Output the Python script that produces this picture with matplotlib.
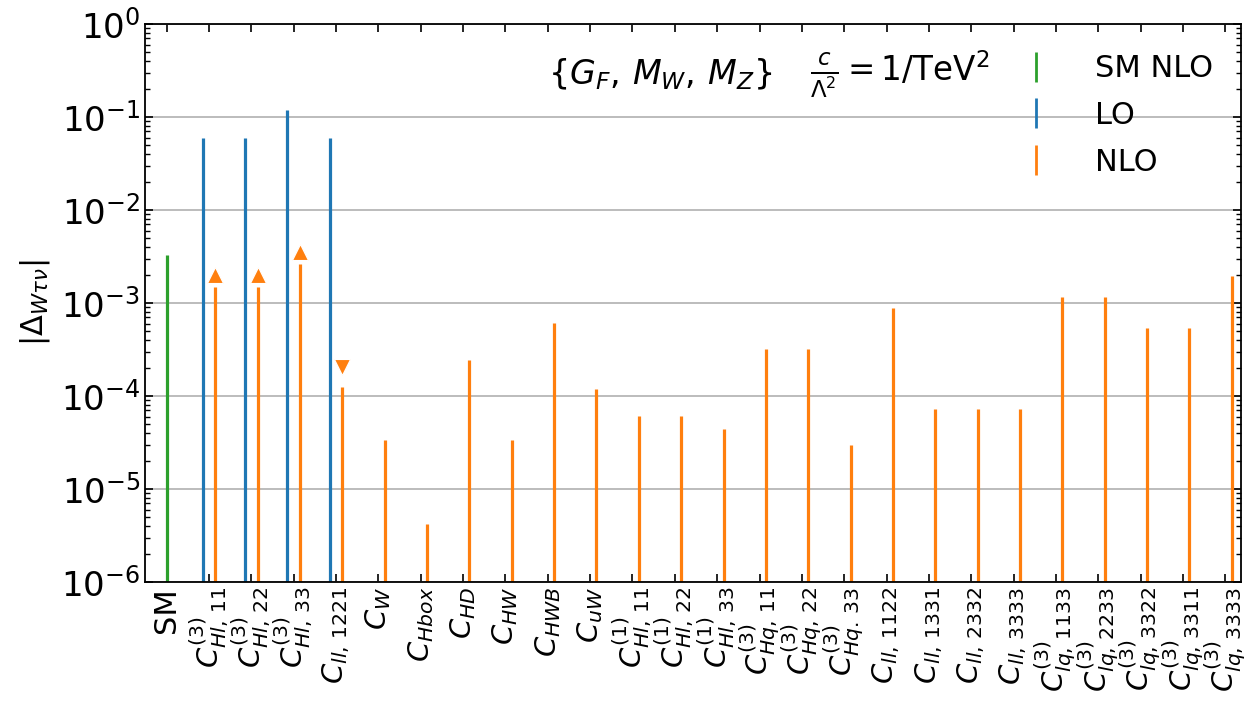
import matplotlib
matplotlib.use("Agg")
import matplotlib.pyplot as plt
from matplotlib.lines import Line2D
import numpy as np

labels = ['SM',
          r'$C_{Hl,\,11}^{(3)}$', r'$C_{Hl,\,22}^{(3)}$', r'$C_{Hl,\,33}^{(3)}$',
          r'$C_{ll,\,1221}$', r'$C_{W}$', r'$C_{Hbox}$', r'$C_{HD}$', r'$C_{HW}$',
          r'$C_{HWB}$', r'$C_{uW}$',
          r'$C_{Hl,\,11}^{(1)}$', r'$C_{Hl,\,22}^{(1)}$', r'$C_{Hl,\,33}^{(1)}$',
          r'$C_{Hq,\,11}^{(3)}$', r'$C_{Hq,\,22}^{(3)}$', r'$C_{Hq.\,33}^{(3)}$',
          r'$C_{ll,\,1122}$', r'$C_{ll,\,1331}$', r'$C_{ll,\,2332}$', r'$C_{ll,\,3333}$',
          r'$C_{lq,\,1133}^{(3)}$', r'$C_{lq,\,2233}^{(3)}$', r'$C_{lq,\,3322}^{(3)}$',
          r'$C_{lq,\,3311}^{(3)}$', r'$C_{lq,\,3333}^{(3)}$']

sm_nlo = [3.28e-3]
lo_idx = [1, 2, 3, 4]
lo_vals = [0.059, 0.059, 0.119, 0.059]
nlo_idx = list(range(1, 26))
nlo_vals = [1.48e-3, 1.48e-3, 2.6e-3, 1.25e-4, 3.37e-5, 4.2e-6, 2.44e-4, 3.37e-5,
            6.1e-4, 1.19e-4, 6.1e-5, 6.1e-5, 4.4e-5, 3.2e-4, 3.2e-4, 2.97e-5,
            8.8e-4, 7.2e-5, 7.2e-5, 7.2e-5, 1.16e-3, 1.16e-3, 5.4e-4, 5.4e-4, 1.95e-3]
up_idx = [1, 2, 3]
up_vals = [2.0e-3, 2.0e-3, 3.5e-3]
down_idx = [4]
down_vals = [2.07e-4]

c_sm, c_lo, c_nlo = '#2ca02c', '#1f77b4', '#ff7f0e'
ymin = 1e-6
off = 0.15

fig = plt.figure(figsize=(12.47, 7.03), dpi=100)
ax = fig.add_axes([0.1163, 0.1721, 0.8789, 0.7938])

ax.vlines([0], ymin, sm_nlo, color=c_sm, lw=2.3)
ax.vlines(np.array(lo_idx) - off, ymin, lo_vals, color=c_lo, lw=2.3)
ax.vlines(np.array(nlo_idx) + off, ymin, nlo_vals, color=c_nlo, lw=2.3)
ax.plot(np.array(up_idx) + off, up_vals, ls='none', marker='^', ms=12,
        color=c_nlo, mec='white', mew=0.8)
ax.plot(np.array(down_idx) + off, down_vals, ls='none', marker='v', ms=12,
        color=c_nlo, mec='white', mew=0.8)

ax.set_yscale('log')
ax.set_ylim(1e-6, 1e0)
ax.set_xlim(-0.51, 25.37)
ax.set_xticks(range(len(labels)))
ax.set_xticklabels(labels, rotation=90, fontsize=21)
ax.get_xticklabels()[0].set_fontsize(22)
ax.tick_params(axis='y', which='major', labelsize=24.5)
ax.tick_params(which='both', direction='in', top=True, right=True)
ax.tick_params(which='major', length=6, width=1.2)
ax.tick_params(which='minor', length=3.5, width=1)
ax.yaxis.set_minor_locator(matplotlib.ticker.LogLocator(base=10, subs=np.arange(2, 10), numticks=20))
ax.yaxis.set_minor_formatter(matplotlib.ticker.NullFormatter())
ax.grid(axis='y', which='major', color='#b0b0b0', lw=1.2)
ax.set_axisbelow(True)
for s in ax.spines.values():
    s.set_linewidth(1.3)

ax.set_ylabel(r'$|\Delta_{W\tau\nu}|$', fontsize=22, labelpad=6)

ax.text(0.368, 0.91, r'$\{G_F,\, M_W,\, M_Z\}$', transform=ax.transAxes,
        fontsize=24, va='center', ha='left')
ax.text(0.607, 0.91, r'$\frac{c}{\Lambda^2} = 1/\mathrm{TeV}^2$', transform=ax.transAxes,
        fontsize=23.5, va='center', ha='left')

handles = [Line2D([], [], color=c_sm, marker='|', ls='none', ms=22, mew=2),
           Line2D([], [], color=c_lo, marker='|', ls='none', ms=22, mew=2),
           Line2D([], [], color=c_nlo, marker='|', ls='none', ms=22, mew=2)]
ax.legend(handles, ['SM NLO', 'LO', 'NLO'], loc='upper right', frameon=False,
          fontsize=22, numpoints=1, handlelength=2.0, handletextpad=0.95,
          labelspacing=0.58, bbox_to_anchor=(1.0, 0.995))

fig.savefig('out.png', dpi=100)
